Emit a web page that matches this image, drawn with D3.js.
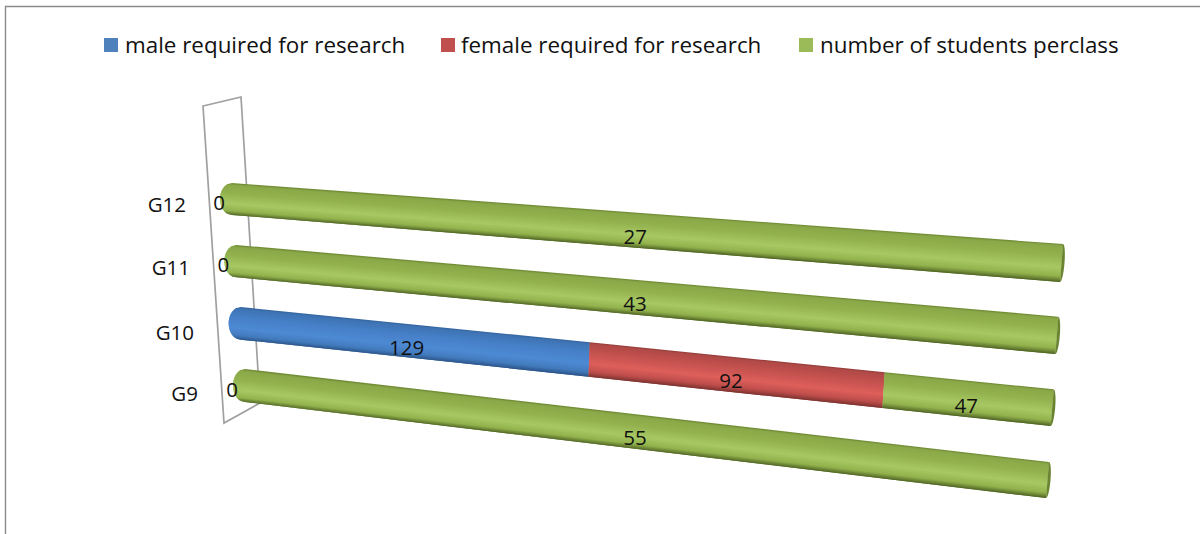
<!DOCTYPE html>
<html>
<head>
<meta charset="utf-8">
<script src="https://d3js.org/d3.v7.min.js"></script>
<style>
html,body{margin:0;padding:0;background:#fff;overflow:hidden}
svg{display:block}
text{font-family:"Open Sans","Noto Sans",sans-serif;fill:#111}
</style>
</head>
<body>
<svg id="chart" width="1200" height="534"></svg>
<script>
// --- data ---
const categories = ["G12", "G11", "G10", "G9"];
const seriesNames = ["male required for research", "female required for research", "number of students perclass"];
const maleValues = [0, 0, 129, 0];
const femaleValues = [0, 0, 92, 0];
const studentValues = [27, 43, 47, 55];
const seriesValues = [maleValues, femaleValues, studentValues];
const legendColors = ["#4F81BD", "#C0504D", "#9BBB59"];
const shadeStops = [0, 0.05, 0.3, 0.62, 0.85, 1];
const seriesShades = [
  ["#34639c", "#3f74b4", "#4680c8", "#4e8ad4", "#437bbd", "#2b5488"],
  ["#8f3b39", "#b04a47", "#c4524f", "#de5f5c", "#bf4f4c", "#7d3331"],
  ["#6a8430", "#8aa848", "#93b24f", "#a8c864", "#92b24d", "#506425"]
];

// --- projection of the 3D plot, as scales over the categories ---
const svg = d3.select("#chart");
const defs = svg.append("defs");
defs.append("filter").attr("id", "soft").attr("x", "-2%").attr("y", "-10%").attr("width", "104%").attr("height", "120%")
  .append("feGaussianBlur").attr("stdDeviation", 0.45);
const pt = r => d3.scalePoint().domain(categories).range(r);
const leftX = pt([232, 245]), leftTop = pt([183, 369]), leftBot = pt([215, 402]);
const rightTopX = pt([1063, 1049]), rightTop = pt([244, 462]);
const rightBotX = pt([1060, 1046]), rightBot = pt([282, 498]);
const share = d3.scaleLinear().domain([0, 1]).range([0, 1]);
const depth = 1.233;
const project = v => { const t = share(v); return t / (depth - (depth - 1) * t); };
const capRx = 12, endRx = 3;
const lerp = (a, b, t) => a + (b - a) * t;
const bulge = k => Math.sqrt(Math.max(0, 1 - (2 * k - 1) ** 2));

function point(cat, p, k) {
  const tx = lerp(leftX(cat), rightTopX(cat), p), ty = lerp(leftTop(cat), rightTop(cat), p);
  const bx = lerp(leftX(cat), rightBotX(cat), p), by = lerp(leftBot(cat), rightBot(cat), p);
  return [lerp(tx, bx, k), lerp(ty, by, k)];
}

// frame
const frame = d3.path();
frame.moveTo(5.5, 534); frame.lineTo(5.5, 6.5); frame.lineTo(1200, 6.5);
svg.append("path").attr("d", frame.toString()).attr("fill", "none").attr("stroke", "#8a8a8a").attr("stroke-width", 1.4);

// wall
svg.append("path").attr("d", d3.line()([[203, 106], [241, 97], [260, 403], [224, 423]]) + "Z")
  .attr("fill", "none").attr("stroke", "#a0a0a0").attr("stroke-width", 1.7);

// legend
const legendBox = [104, 441, 799], legendText = [125, 461, 820];
const legend = svg.append("g").selectAll("g").data(seriesNames).join("g");
legend.append("rect").attr("x", (d, i) => legendBox[i]).attr("y", 38).attr("width", 14).attr("height", 14)
  .attr("fill", (d, i) => legendColors[i]);
legend.append("text").attr("x", (d, i) => legendText[i]).attr("y", 53).attr("font-size", 22.4).text(d => d);

// category labels
const labelEnd = pt([186, 198]), labelY = pt([205, 394]);
const labelYFix = {G12: 0, G11: 0, G10: 2, G9: 0};
svg.append("g").selectAll("text").data(categories).join("text")
  .attr("x", d => labelEnd(d)).attr("y", d => labelY(d) + 7 + labelYFix[d])
  .attr("text-anchor", "end").attr("font-size", 20.5).text(d => d);

// stacked segments
const segments = [];
categories.forEach((cat, c) => {
  const total = d3.sum(seriesValues, s => s[c]);
  let cum = 0;
  seriesValues.forEach((s, i) => {
    const v = s[c];
    segments.push({cat, series: i, value: v, from: cum / total, to: (cum + v) / total, total});
    cum += v;
  });
});

const N = 36;
const ks = d3.range(N + 1).map(i => i / N);
const barsG = svg.append("g").attr("filter", "url(#soft)");
const visible = segments.filter(d => d.value > 0);

visible.forEach(seg => {
  const shade = d3.scaleLinear().domain(shadeStops).range(seriesShades[seg.series]).interpolate(d3.interpolateRgb);
  const p0 = project(seg.from), p1 = project(seg.to);
  const isFirst = seg.from === 0, isLast = seg.to === 1;
  const strips = d3.range(N).map(i => ({a: ks[i], b: ks[Math.min(N, i + 2)], c: (ks[i] + ks[i + 1]) / 2}));
  barsG.append("g").selectAll("path").data(strips).join("path")
    .attr("fill", d => shade(d.c))
    .attr("d", d => {
      const sub = ks.filter(k => k >= d.a - 1e-9 && k <= d.b + 1e-9);
      const left = sub.map(k => { const q = point(seg.cat, p0, k); return [q[0] - (isFirst ? capRx * bulge(k) : 0), q[1]]; });
      const right = sub.slice().reverse().map(k => point(seg.cat, p1, k));
      return d3.line()(left.concat(right)) + "Z";
    });
  if (isLast) {
    // far end of the cylinder
    const arc = ks.map(k => { const q = point(seg.cat, 1, k); return [q[0] + endRx * bulge(k), q[1]]; });
    const chord = ks.slice().reverse().map(k => point(seg.cat, 1, k));
    barsG.append("path").attr("d", d3.line()(arc.concat(chord)) + "Z").attr("fill", "#6a8430");
  }
});

// data labels
const fullSpanLabelAt = 0.486;
const labelRows = segments.filter(d => d.value > 0 || d.series === 0);
svg.append("g").selectAll("text").data(labelRows).join("text")
  .attr("text-anchor", "middle").attr("font-size", 20.5)
  .attr("x", d => {
    if (d.value === 0) return leftX(d.cat) - capRx - 1;
    const p = (d.from === 0 && d.to === 1) ? fullSpanLabelAt : project((d.from + d.to) / 2);
    return point(d.cat, p, 0.5)[0];
  })
  .attr("y", d => {
    if (d.value === 0) return point(d.cat, 0, 0.5)[1] + 11;
    const p = (d.from === 0 && d.to === 1) ? fullSpanLabelAt : project((d.from + d.to) / 2);
    return point(d.cat, p, 0.5)[1] + 14;
  })
  .text(d => d.value);
</script>
</body>
</html>
